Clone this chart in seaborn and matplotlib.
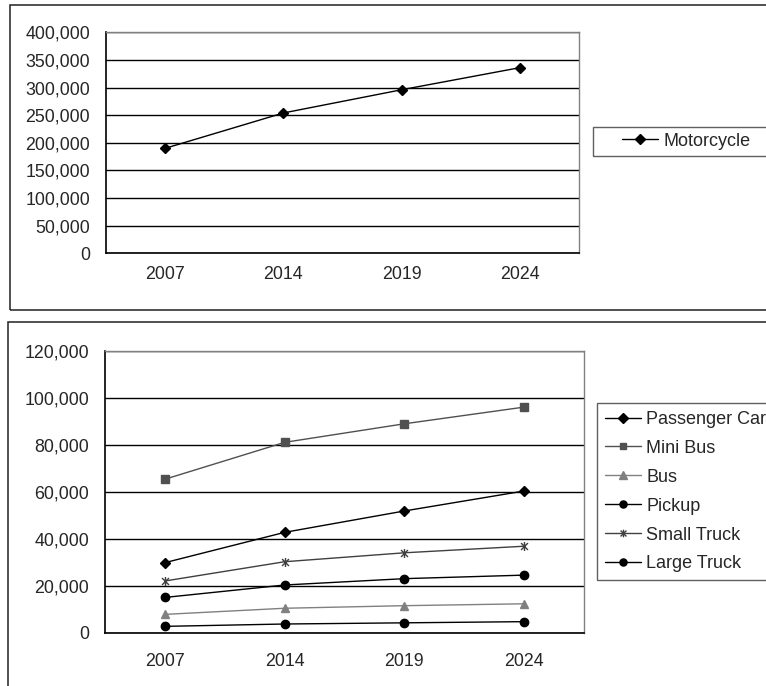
import numpy as np
import pandas as pd
import matplotlib
matplotlib.use("Agg")
import matplotlib.pyplot as plt
import seaborn as sns
from matplotlib.patches import Rectangle
from matplotlib.path import Path
from matplotlib.ticker import FuncFormatter

# data
years = ["2007", "2014", "2019", "2024"]
motorcycle = [190000, 254000, 296000, 336000]

passenger_car = [29800, 42700, 51800, 60300]
mini_bus = [65300, 81000, 88900, 96000]
bus = [7800, 10400, 11500, 12300]
pickup = [15000, 20300, 23000, 24500]
small_truck = [22000, 30200, 34000, 36800]
large_truck = [2700, 3700, 4200, 4700]

series_names = ["Passenger Car", "Mini Bus", "Bus", "Pickup", "Small Truck", "Large Truck"]
series_vals = [passenger_car, mini_bus, bus, pickup, small_truck, large_truck]

# excel-like star: an x with a vertical bar through it
star = Path([(-1, -1), (1, 1), (-1, 1), (1, -1), (0, -1.3), (0, 1.3)],
            [Path.MOVETO, Path.LINETO, Path.MOVETO, Path.LINETO, Path.MOVETO, Path.LINETO])

colors = {"Motorcycle": "#000000", "Passenger Car": "#000000", "Mini Bus": "#505050",
          "Bus": "#808080", "Pickup": "#000000", "Small Truck": "#404040",
          "Large Truck": "#000000"}
markers = {"Motorcycle": "D", "Passenger Car": "D", "Mini Bus": "s", "Bus": "^",
           "Pickup": "o", "Small Truck": star, "Large Truck": "o"}
msizes = {"Motorcycle": 5.5, "Passenger Car": 5.5, "Mini Bus": 5.5, "Bus": 6,
          "Pickup": 6, "Small Truck": 6.5, "Large Truck": 6}

sns.set_theme(style="white")
plt.rcParams["font.family"] = ["Liberation Sans", "DejaVu Sans"]

W, H = 766, 686
fig = plt.figure(figsize=(W / 100, H / 100), dpi=100)

# panel frames
fig.patches.append(Rectangle((10.3 / W, 1 - 309.5 / H), 1.2, 305 / H, transform=fig.transFigure,
                             fill=False, edgecolor="#202020", lw=1.1, zorder=0))
fig.patches.append(Rectangle((8.3 / W, -0.1), 1.2, 0.1 + 1 - 322.5 / H, transform=fig.transFigure,
                             fill=False, edgecolor="#202020", lw=1.1, zorder=0))
# the top legend box is wider than its content, so its frame is drawn apart
fig.patches.append(Rectangle((592.7 / W, 1 - 155.7 / H), 0.5, 29 / H, transform=fig.transFigure,
                             fill=False, edgecolor="#606060", lw=1.0, zorder=1))

ax1 = fig.add_axes([106 / W, 1 - 253.3 / H, 473 / W, 221 / H])
ax2 = fig.add_axes([105 / W, 1 - 632.7 / H, 479 / W, 282 / H])

df1 = pd.DataFrame({"x": np.arange(len(years)), "value": motorcycle, "series": "Motorcycle"})
rows = []
for name, vals in zip(series_names, series_vals):
    rows.append(pd.DataFrame({"x": np.arange(len(years)), "value": vals, "series": name}))
df2 = pd.concat(rows, ignore_index=True)


def draw(ax, df, order):
    for name in order:
        sub = df[df["series"] == name]
        sns.lineplot(data=sub, x="x", y="value", ax=ax, color=colors[name], marker=markers[name],
                     markersize=msizes[name], markeredgecolor=colors[name], markeredgewidth=1.0,
                     lw=1.0, label=name, zorder=3)


def style(ax, ymax, ystep, xpad):
    ax.set_xlim(-0.5, len(years) - 0.5)
    ax.set_ylim(0, ymax)
    ax.set_yticks(np.arange(0, ymax + 1, ystep))
    ax.yaxis.set_major_formatter(FuncFormatter(lambda v, p: f"{v:,.0f}"))
    ax.grid(axis="y", color="#000000", lw=1.0)
    ax.set_axisbelow(True)
    ax.set_xticks(np.arange(-0.5, len(years), 1.0))
    ax.set_xticklabels([])
    ax.set_xticks(np.arange(len(years)), minor=True)
    ax.set_xticklabels(years, minor=True)
    ax.tick_params(axis="x", which="major", direction="in", length=5, width=1, color="#000000")
    ax.tick_params(axis="x", which="minor", length=0, pad=xpad, labelsize=12.8)
    ax.tick_params(axis="y", length=0, pad=11.5, labelsize=12.8)
    ax.set_xlabel("")
    ax.set_ylabel("")
    for s in ["left", "bottom"]:
        ax.spines[s].set_color("#000000")
        ax.spines[s].set_linewidth(1.2)
    for s in ["top", "right"]:
        ax.spines[s].set_color("#808080")
        ax.spines[s].set_linewidth(1.0)


draw(ax1, df1, ["Motorcycle"])
style(ax1, 400000, 50000, 9.5)
draw(ax2, df2, series_names)
style(ax2, 120000, 20000, 14.5)

legend_kw = dict(bbox_transform=fig.transFigure, borderaxespad=0, fancybox=False, framealpha=1,
                 edgecolor="#606060", fontsize=13, handlelength=2.0, handletextpad=0.3,
                 markerscale=0.85)

h, l = ax1.get_legend_handles_labels()
ax1.get_legend().remove()
ax1.legend(h, l, loc="center left", bbox_to_anchor=(621.7 / W, 1 - 141.2 / H),
           frameon=False, borderpad=0, **legend_kw)

h, l = ax2.get_legend_handles_labels()
ax2.get_legend().remove()
leg = ax2.legend(h, l, loc="upper left", bbox_to_anchor=(597.3 / W, 1 - 403.3 / H),
                 frameon=True, borderpad=0.42, labelspacing=0.66, **legend_kw)
leg.get_frame().set_linewidth(1.0)

fig.savefig("out.png", dpi=100)
